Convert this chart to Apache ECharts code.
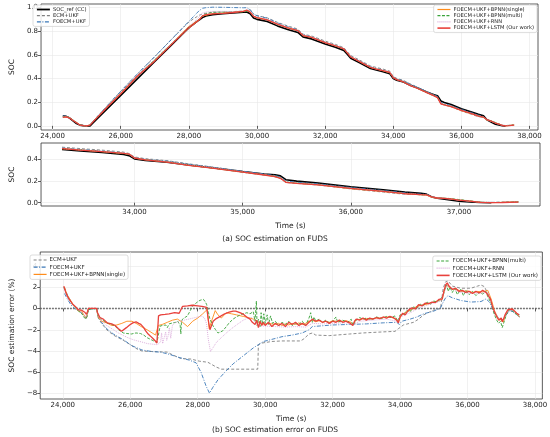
<!DOCTYPE html>
<html lang="en">
<head>
<meta charset="UTF-8">
<title>SOC estimation on FUDS</title>
<script src="https://cdn.jsdelivr.net/npm/echarts@6.0.0/dist/echarts.min.js"></script>
<style>
    html, body { margin: 0; padding: 0; background: #fff; }
    #chart { width: 550px; height: 437px; }
</style>
</head>
<body>
<div id="chart"></div>
<script>
// ---- SOC curves (panel a) ----
var socTime = [24300,24400,24500,24600,24700,24800,24900,25000,25100,25200,
    25600,26000,26500,27000,27500,28000,28300,28400,28500,28700,
    29000,29300,29600,29700,29800,29900,30000,30300,30600,30900,
    31200,31250,31350,31600,32000,32300,32550,32650,32750,33000,
    33330,33500,33700,33900,33950,34000,34100,34300,34500,34700,
    35000,35200,35300,35350,35400,35500,35700,36000,36300,36500,
    36650,36700,36750,36800,36900,37000,37100,37200,37300,37400,37550];
var socRef = [.085,.080,.066,.042,.020,.006,.002,.000,.000,.028,
    .143,.258,.401,.544,.687,.830,.895,.915,.928,.940,
    .948,.954,.960,.963,.948,.912,.900,.882,.845,.815,
    .790,.780,.752,.735,.692,.665,.638,.605,.572,.535,
    .485,.472,.458,.440,.430,.400,.386,.370,.344,.322,
    .285,.262,.255,.245,.210,.197,.180,.145,.118,.098,
    .085,.078,.052,.040,.028,.014,.007,.002,.000,null,null];
var socEcm = [.082,.080,.069,.048,.029,.006,.002,.000,.010,.043,
    .169,.292,.441,.585,.734,.878,.935,.945,.952,.958,
    .962,.966,.970,.972,.982,.945,.932,.913,.875,.845,
    .818,.806,.775,.760,.717,.689,.661,.628,.595,.558,
    .507,.494,.480,.462,.449,.418,.402,.384,.355,.328,
    .287,.262,.236,.220,.184,.176,.161,.126,.097,.077,
    .074,.072,.054,.045,.037,.024,.013,.004,.003,.005,.006];
var socFoecm = [.084,.081,.068,.046,.025,.006,.002,.000,.008,.043,
    .170,.293,.442,.586,.734,.883,.973,.994,.999,1.003,
    1.002,1.000,.998,.999,.982,.944,.931,.910,.871,.838,
    .811,.800,.770,.751,.707,.680,.653,.619,.586,.550,
    .499,.486,.471,.453,.445,.412,.397,.380,.352,.327,
    .288,.262,.249,.235,.198,.187,.172,.139,.112,.091,
    .079,.077,.053,.044,.036,.025,.014,.004,.003,.003,.008];
var socBpnnS = [.073,.077,.068,.047,.028,.007,.002,.000,.007,.039,
    .159,.270,.421,.557,.698,.841,.897,.930,.934,.948,
    .953,.961,.969,.975,.962,.927,.914,.897,.860,.830,
    .805,.794,.764,.748,.705,.677,.651,.618,.583,.545,
    .494,.481,.466,.450,.442,.408,.392,.372,.342,.319,
    .280,.254,.238,.223,.188,.178,.163,.128,.102,.083,
    .072,.069,.049,.042,.037,.025,.016,.004,.001,.003,.008];
var socBpnnM = [.075,.078,.070,.050,.030,.008,.002,.000,.007,.040,
    .163,.282,.428,.560,.698,.823,.893,.931,.946,.962,
    .962,.960,.963,.968,.962,.925,.914,.895,.858,.828,
    .804,.790,.762,.748,.704,.677,.651,.618,.584,.544,
    .493,.482,.466,.447,.442,.406,.392,.373,.344,.319,
    .278,.253,.243,.227,.188,.179,.165,.130,.104,.084,
    .072,.073,.053,.044,.040,.029,.017,.004,.001,.003,.007];
var socRnn = [.074,.077,.068,.047,.027,.007,.002,.000,.008,.040,
    .165,.285,.434,.559,.699,.838,.920,.955,.962,.967,
    .968,.966,.969,.977,.964,.929,.916,.898,.862,.832,
    .807,.797,.768,.751,.708,.680,.654,.621,.587,.546,
    .496,.482,.468,.452,.442,.408,.393,.374,.345,.322,
    .281,.255,.240,.227,.188,.178,.164,.131,.104,.083,
    .073,.071,.052,.043,.035,.024,.014,.004,.002,.002,.006];
var socLstm = [.072,.076,.066,.045,.026,.007,.002,.000,.006,.038,
    .157,.272,.424,.549,.691,.828,.894,.930,.940,.947,
    .951,.958,.968,.978,.962,.926,.915,.896,.860,.829,
    .805,.794,.763,.747,.704,.677,.651,.617,.582,.545,
    .494,.480,.466,.451,.444,.408,.391,.371,.340,.318,
    .279,.253,.239,.223,.186,.177,.163,.130,.104,.082,
    .073,.072,.053,.043,.037,.024,.014,.003,.000,.002,.006];

// ---- SOC estimation error in % (panel b) ----
var errEcmT = [24050,24150,24250,24350,24450,24550,24650,24700,24760,24800,25000,25050,25150,25300,25500,25800,26000,26200,26350,26700,
    27100,27250,27500,27800,28050,28300,28550,28700,29000,29400,29780,29800,29900,30200,30500,31050,31150,31300,31400,31500,
    31900,32500,32900,33500,33850,33950,34100,34400,34550,34700,35000,35200,35280,35350,35420,35550,35800,36100,36300,36400,
    36500,36650,36800,36950,37050,37150,37250,37350,37450,37550];
var errEcm = [1.9,1.2,0.6,0.2,-0.1,-0.4,-0.8,-1.0,-0.05,0,0,-0.9,-1.4,-2.0,-2.5,-3.0,-3.4,-3.8,-4.0,-4.05,
    -4.1,-4.35,-4.7,-4.75,-4.95,-5.05,-5.5,-5.7,-5.7,-5.7,-5.7,-3.4,-3.25,-3.1,-3.05,-3.05,-2.85,-2.4,-2.3,-2.5,
    -2.55,-2.4,-2.3,-2.2,-2.15,-1.9,-1.55,-1.3,-1.0,-0.6,-0.15,0.0,1.9,2.5,2.6,2.1,1.9,1.9,2.1,2.2,
    2.05,1.1,-0.5,-0.95,-1.05,-0.5,-0.2,-0.25,-0.5,-0.6];

var errFoecmT = [24050,24150,24250,24350,24450,24550,24650,24700,24760,24800,25000,25050,25150,25300,25500,25800,26050,26350,26650,26900,
    27150,27450,27750,27950,28100,28250,28350,28450,28600,28800,29050,29350,29650,29800,29950,30200,30500,30800,31100,31300,
    31400,31600,32000,32500,33000,33500,33900,33980,34050,34300,34500,34700,35000,35200,35280,35350,35420,35550,35800,36100,
    36400,36550,36650,36800,36950,37050,37150,37250,37350,37450,37550];
var errFoecm = [1.4,0.8,0.3,0.0,-0.2,-0.4,-0.7,-0.9,-0.1,0,0,-0.8,-1.3,-1.9,-2.4,-2.95,-3.5,-3.9,-4.05,-4.1,
    -4.3,-4.6,-4.85,-5.1,-6.0,-7.3,-7.95,-7.4,-6.7,-6.0,-5.2,-4.45,-3.7,-3.4,-3.1,-2.9,-2.65,-2.5,-2.3,-2.0,
    -1.7,-1.65,-1.55,-1.5,-1.45,-1.35,-1.3,-1.5,-1.2,-1.0,-0.8,-0.5,-0.25,0.05,0.6,1.0,1.2,1.0,0.75,0.6,
    0.65,0.9,0.6,-0.4,-1.0,-1.1,-0.6,-0.2,-0.3,-0.6,-0.8];

var errBpnnST = [24050,24120,24200,24300,24400,24480,24550,24620,24700,24760,25000,25050,25150,25300,25450,25600,25750,25900,26050,26200,
    26350,26500,26650,26750,26790,26830,26950,27100,27250,27400,27550,27700,27850,28000,28150,28280,28340,28420,28520,28600,
    28700,28850,29000,29150,29350,29500,29650,29800,29950,30100,30300,30400,30500,30600,30700,30800,30900,31000,31100,31200,
    31300,31400,31500,31600,31700,31800,31900,32000,32200,32400,32550,32600,32700,32850,33000,33150,33300,33450,33600,33750,
    33900,33950,34050,34200,34350,34500,34650,34800,34950,35100,35250,35310,35380,35450,35550,35700,35850,36000,36150,36300,
    36450,36600,36700,36800,36900,37000,37060,37120,37200,37300,37400,37480,37550];
var errBpnnS = [2.0,1.3,0.9,0.4,0.0,-0.3,-0.2,-0.6,-0.9,0.0,0.0,-0.8,-1.2,-1.35,-1.6,-1.55,-1.4,-1.2,-1.2,-1.45,
    -1.75,-2.0,-2.3,-2.5,-2.4,-1.6,-1.5,-1.3,-1.1,-1.0,-1.3,-1.7,-1.2,-0.9,-0.5,-0.1,-1.9,-1.1,-0.2,-0.6,
    -0.9,-0.4,-0.5,-0.6,-0.75,-0.85,-1.0,-1.3,-1.5,-1.4,-1.5,-1.4,-1.6,-1.45,-1.55,-1.4,-1.5,-1.35,-1.5,-1.4,
    -1.2,-1.1,-1.25,-1.15,-1.3,-1.2,-1.3,-1.15,-1.25,-1.15,-1.3,-1.5,-1.05,-1.0,-0.95,-1.0,-0.9,-0.9,-0.8,-0.85,
    -1.0,-1.2,-0.6,-0.3,-0.1,0.2,0.3,0.4,0.55,0.7,0.85,1.7,2.2,2.0,1.8,1.75,1.6,1.65,1.5,1.6,
    1.55,1.7,0.9,-0.2,-0.9,-1.1,-1.3,-0.7,-0.15,-0.05,-0.3,-0.6,-0.8];

var errBpnnMT = [24030,24100,24200,24300,24400,24480,24550,24620,24680,24720,24760,24800,25000,25050,25150,25300,25450,25550,25650,25790,
    25900,26030,26170,26300,26400,26505,26600,26695,26790,26830,26886,26950,27050,27100,27150,27267,27350,27410,27480,27500,
    27520,27552,27620,27695,27780,27838,27950,28029,28100,28171,28230,28267,28320,28362,28420,28457,28530,28600,28680,28743,
    28850,28933,29050,29170,29300,29457,29550,29648,29700,29740,29760,29800,29850,29880,29920,29960,30000,30060,30100,30160,
    30220,30300,30400,30500,30600,30700,30800,30900,31000,31100,31200,31300,31350,31400,31450,31500,31600,31700,31800,31900,
    32000,32100,32150,32300,32450,32550,32600,32700,32800,32900,33000,33150,33300,33450,33600,33750,33850,33930,34000,34100,
    34200,34300,34400,34500,34600,34700,34800,34900,35000,35100,35200,35280,35330,35380,35430,35480,35550,35620,35700,35800,
    35880,35950,36050,36150,36250,36350,36450,36550,36600,36700,36780,36850,36920,36980,37030,37080,37130,37200,37280,37360,
    37450,37530];
var errBpnnM = [2.0,1.4,0.8,0.3,0.0,-0.3,-0.4,-0.8,-1.0,-0.7,-0.1,0.0,0.0,-0.7,-1.0,-1.35,-1.5,-1.65,-2.0,-2.3,
    -2.35,-2.4,-2.3,-2.35,-2.5,-2.75,-2.9,-3.05,-3.2,-3.1,-1.65,-1.6,-1.55,-1.8,-1.45,-1.35,-1.3,-1.2,-1.6,-2.4,
    -1.2,-1.0,-0.85,-0.7,-0.2,0.2,0.5,0.7,0.8,0.85,0.6,0.35,-0.4,-1.0,-1.4,-1.65,-2.0,-2.3,-2.2,-2.1,
    -1.7,-1.35,-1.0,-0.75,-0.55,-0.4,-0.5,-0.3,-1.2,0.7,-1.6,-1.0,-1.7,-0.4,-1.5,-0.5,-1.4,-0.6,-1.5,-0.7,
    -1.4,-1.2,-1.6,-1.3,-1.5,-1.2,-1.6,-1.4,-1.5,-1.2,-1.6,-0.9,-0.4,-1.3,-0.8,-1.2,-1.0,-1.3,-1.1,-1.35,
    -1.2,-0.8,-1.3,-1.1,-1.3,-1.0,-1.6,-1.1,-0.85,-1.0,-0.9,-1.05,-0.8,-0.95,-0.75,-0.85,-0.7,-1.2,-0.6,-0.55,
    -0.2,-0.3,0.15,0.0,0.4,0.3,0.6,0.4,0.7,0.6,0.9,1.2,1.8,2.2,1.6,2.0,1.5,1.9,1.3,1.8,
    1.2,1.7,1.3,1.6,1.2,1.5,1.35,1.6,1.1,0.5,-0.4,-1.0,-1.4,-1.2,-1.8,-1.3,-0.8,-0.2,-0.1,-0.3,
    -0.55,-0.7];

var errRnnT = [24030,24100,24200,24300,24400,24500,24600,24700,24760,25000,25050,25150,25300,25500,25648,25800,25933,26100,26219,26400,
    26505,26650,26790,26850,26900,26930,26960,27000,27050,27080,27120,27160,27200,27250,27314,27450,27600,27800,28000,28124,
    28200,28260,28314,28380,28450,28550,28695,28850,29000,29171,29350,29500,29600,29700,29800,30000,30300,30600,30900,31200,
    31400,31700,32000,32400,32600,32800,33200,33600,33900,34000,34300,34600,34900,35200,35300,35400,35500,35800,36100,36400,
    36600,36700,36800,36950,37050,37150,37250,37350,37450,37530];
var errRnn = [1.9,1.3,0.7,0.3,0.0,-0.2,-0.5,-0.8,0.0,0.0,-0.7,-1.1,-1.6,-2.0,-2.3,-2.55,-2.75,-2.95,-3.05,-3.2,
    -3.3,-3.35,-3.4,-3.3,-3.1,-2.3,-3.3,-3.2,-2.2,-3.0,-2.6,-1.8,-2.8,-1.6,-1.35,-1.25,-1.1,-0.95,-0.8,-0.72,
    -0.9,-1.4,-2.9,-4.05,-3.7,-3.2,-2.75,-2.3,-1.9,-1.5,-1.1,-0.9,-0.85,-1.3,-1.65,-1.65,-1.7,-1.75,-1.7,-1.75,
    -1.4,-1.45,-1.4,-1.35,-1.55,-1.2,-1.1,-1.0,-1.2,-0.8,-0.4,0.1,0.4,0.7,1.5,2.2,1.9,1.5,1.4,1.45,
    1.5,0.7,-0.3,-1.0,-1.1,-0.5,-0.1,-0.2,-0.45,-0.6];

var errLstmT = [24030,24080,24130,24180,24230,24280,24330,24400,24450,24500,24550,24600,24650,24700,24730,24760,24800,25000,25030,25100,
    25200,25314,25450,25550,25650,25743,25800,25886,25980,26076,26171,26250,26314,26400,26457,26530,26600,26680,26743,26790,
    26820,26838,26900,27029,27150,27314,27450,27505,27552,27700,27838,28000,28124,28267,28320,28362,28420,28457,28550,28695,
    28800,28933,29050,29124,29250,29362,29450,29552,29620,29700,29750,29800,29850,29900,29950,30000,30100,30200,30300,30400,
    30500,30600,30700,30800,30900,31000,31100,31200,31300,31400,31500,31600,31700,31800,31900,32000,32100,32200,32300,32400,
    32500,32600,32650,32700,32800,32900,33000,33100,33200,33300,33400,33500,33600,33700,33800,33900,33950,34000,34080,34150,
    34250,34350,34450,34550,34650,34750,34850,34950,35050,35150,35250,35300,35350,35400,35450,35500,35550,35650,35750,35850,
    35950,36050,36150,36250,36350,36450,36550,36600,36680,36750,36800,36870,36930,37000,37030,37080,37120,37200,37250,37330,
    37400,37460,37530];
var errLstm = [2.1,1.6,1.2,0.9,0.7,0.45,0.3,0.1,-0.1,0.0,-0.15,-0.3,-0.35,-0.55,-0.3,0.0,0.0,0.0,-0.4,-0.85,
    -1.0,-1.35,-1.45,-1.6,-1.9,-2.15,-2.0,-1.8,-1.55,-1.35,-1.25,-1.4,-1.5,-1.8,-2.1,-2.4,-2.6,-2.85,-3.05,-3.25,
    -3.3,-0.7,-0.6,-0.55,-0.5,-0.4,-0.45,-0.35,0.2,0.25,0.3,0.25,0.2,0.1,-1.2,-2.0,-1.5,-1.2,-0.95,-0.7,
    -0.5,-0.35,-0.25,-0.25,-0.4,-0.56,-0.8,-1.0,-1.3,-1.5,-1.1,-1.8,-1.2,-1.6,-1.3,-1.6,-1.3,-1.7,-1.4,-1.6,
    -1.4,-1.7,-1.3,-1.5,-1.3,-1.6,-1.4,-1.6,-1.3,-1.0,-1.2,-1.1,-1.3,-1.2,-1.4,-1.2,-1.3,-1.1,-1.3,-1.2,
    -1.35,-1.6,-1.2,-1.0,-1.1,-0.9,-1.1,-0.9,-1.0,-0.85,-0.95,-0.8,-0.9,-0.75,-0.85,-1.1,-1.35,-0.8,-0.45,-0.6,
    -0.15,0.05,-0.05,0.35,0.25,0.5,0.45,0.6,0.55,0.85,0.9,1.6,2.2,2.4,2.1,2.0,1.8,1.9,1.6,1.7,
    1.5,1.6,1.4,1.6,1.45,1.7,1.5,1.6,0.9,0.1,-0.3,-0.8,-1.1,-0.9,-1.25,-0.9,-0.55,-0.1,0.0,-0.05,
    -0.25,-0.45,-0.6];

// ---- tick labels ----
var xTicksMain = [24000,26000,28000,30000,32000,34000,36000,38000];
var xTicksZoom = [34000,35000,36000,37000];
var yTicksSoc = [0,0.2,0.4,0.6,0.8,1.0];
var yTicksZoom = [0,0.2,0.4];
var yTicksErr = [-8,-6,-4,-2,0,2,4];

var names = ['SOC_ref (CC)','ECM+UKF','FOECM+UKF','FOECM+UKF+BPNN(single)',
    'FOECM+UKF+BPNN(multi)','FOECM+UKF+RNN','FOECM+UKF+LSTM (Our work)'];
var colors = ['#000000','#808080','#3b78b8','#ff8c1a','#3aa33a','#d9a8d9','#e8413c'];
var widths = [1.6,0.9,0.9,0.9,0.9,0.9,1.3];
var legendWidths = [1.8,1.2,1.2,1.2,1.2,1.2,1.6];
var dashes = ['solid',[3,2],[4,1.5,1,1.5],'solid',[3,1.5],[1,1],'solid'];

var FONT = 'DejaVu Sans';

function pairs(t, v, from) {
    var out = [];
    for (var i = 0; i < t.length; i++) {
        if (v[i] === null || t[i] < from) continue;
        out.push([t[i], v[i]]);
    }
    return out;
}

function line(k, data, gi) {
    return {
        name: names[k], type: 'line', xAxisIndex: gi, yAxisIndex: gi,
        data: data, symbol: 'none', showSymbol: false, silent: true,
        lineStyle: {color: colors[k], width: widths[k], type: dashes[k]},
        itemStyle: {color: colors[k]}, z: 2 + k
    };
}

function thousands(v) {
    var s = Math.abs(v).toString().replace(/\B(?=(\d{3})+(?!\d))/g, ',');
    return (v < 0 ? '\u2212' : '') + s;
}

function xAxis(gi, min, max, ticks, name) {
    return {
        gridIndex: gi, type: 'value', min: min, max: max,
        name: name || '', nameLocation: 'middle', nameGap: 16,
        nameTextStyle: {fontFamily: FONT, fontSize: 7.5, color: '#222'},
        axisLine: {show: false},
        axisTick: {customValues: ticks, length: 3, lineStyle: {color: '#333', width: 0.8}},
        axisLabel: {customValues: ticks, formatter: thousands, fontFamily: FONT, fontSize: 7, color: '#222', margin: 3},
        splitLine: {show: true, lineStyle: {color: '#e8e8e8', width: 0.6}}
    };
}

function yAxis(gi, min, max, ticks, name, fmt) {
    return {
        gridIndex: gi, type: 'value', min: min, max: max,
        name: name, nameLocation: 'middle', nameGap: 20, nameRotate: 90,
        nameTextStyle: {fontFamily: FONT, fontSize: 7.5, color: '#222'},
        axisLine: {show: false},
        axisTick: {customValues: ticks, length: 3, lineStyle: {color: '#333', width: 0.8}},
        axisLabel: {customValues: ticks, formatter: fmt, fontFamily: FONT, fontSize: 7, color: '#222', margin: 3},
        splitLine: {show: true, lineStyle: {color: '#e8e8e8', width: 0.6}}
    };
}

function legend(idx, pos, fs) {
    var items = idx.map(function (k) {
        return {name: names[k], lineStyle: {color: colors[k], width: legendWidths[k], type: dashes[k]}};
    });
    var l = {
        data: items, orient: 'vertical', selectedMode: false,
        itemWidth: 13, itemHeight: 5, itemGap: 1.2,
        padding: [2, 3, 2, 3],
        borderColor: '#cfcfcf', borderWidth: 0.7, borderRadius: 2,
        backgroundColor: 'rgba(255,255,255,0.85)',
        itemStyle: {opacity: 0},
        textStyle: {fontFamily: FONT, fontSize: fs, color: '#222', padding: [0, 0, 0, -2]}
    };
    for (var k in pos) l[k] = pos[k];
    return l;
}

var socSets = [socRef, socEcm, socFoecm, socBpnnS, socBpnnM, socRnn, socLstm];
var series = [];
// panel (a) full run and zoomed discharge end
for (var k = 0; k < 7; k++) series.push(line(k, pairs(socTime, socSets[k], 0), 0));
for (k = 0; k < 7; k++) series.push(line(k, pairs(socTime, socSets[k], 33330), 1));
// panel (b) errors
var errSets = [[errEcmT, errEcm], [errFoecmT, errFoecm], [errBpnnST, errBpnnS],
    [errBpnnMT, errBpnnM], [errRnnT, errRnn], [errLstmT, errLstm]];
for (k = 0; k < 6; k++) {
    var s = line(k + 1, pairs(errSets[k][0], errSets[k][1], 0), 2);
    if (k === 0) {
        s.markLine = {
            silent: true, symbol: 'none', label: {show: false}, z: 1,
            lineStyle: {color: '#555', width: 1.4, type: [1.5, 1.5]},
            data: [{yAxis: 0}]
        };
    }
    series.push(s);
}

var chart = echarts.init(document.getElementById('chart'), null, {renderer: 'canvas'});
chart.setOption({
    animation: false,
    backgroundColor: '#ffffff',
    title: [
        {text: '(a) SOC estimation on FUDS', left: 'center', top: 235, padding: 0,
         textStyle: {fontFamily: FONT, fontSize: 7.5, fontWeight: 'normal', color: '#222'}},
        {text: '(b) SOC estimation error on FUDS', left: 'center', top: 426, padding: 0,
         textStyle: {fontFamily: FONT, fontSize: 7.5, fontWeight: 'normal', color: '#222'}}
    ],
    grid: [
        {left: 32, top: 4, width: 506, height: 126, show: true, borderColor: '#333', borderWidth: 0.8, backgroundColor: '#fff'},
        {left: 31, top: 143, width: 509, height: 63, show: true, borderColor: '#333', borderWidth: 0.8, backgroundColor: '#fff'},
        {left: 27, top: 252, width: 516, height: 147, show: true, borderColor: '#333', borderWidth: 0.8, backgroundColor: '#fff'}
    ],
    xAxis: [
        xAxis(0, 23660, 38250, xTicksMain),
        xAxis(1, 33136, 37750, xTicksZoom, 'Time (s)'),
        xAxis(2, 23330, 38220, xTicksMain, 'Time (s)')
    ],
    yAxis: [
        yAxis(0, -0.035, 1.03, yTicksSoc, 'SOC', function (v) { return v.toFixed(1); }),
        yAxis(1, -0.03, 0.545, yTicksZoom, 'SOC', function (v) { return v.toFixed(1); }),
        yAxis(2, -8.5, 5.3, yTicksErr, 'SOC estimation error (%)', thousands)
    ],
    legend: [
        legend([0, 1, 2], {left: 33, top: 5}, 5.2),
        legend([3, 4, 5, 6], {right: 13, top: 5}, 5.2),
        legend([1, 2, 3], {left: 30, top: 255}, 5.5),
        legend([4, 5, 6], {right: 9, top: 256}, 5.5)
    ],
    series: series
});
</script>
</body>
</html>
